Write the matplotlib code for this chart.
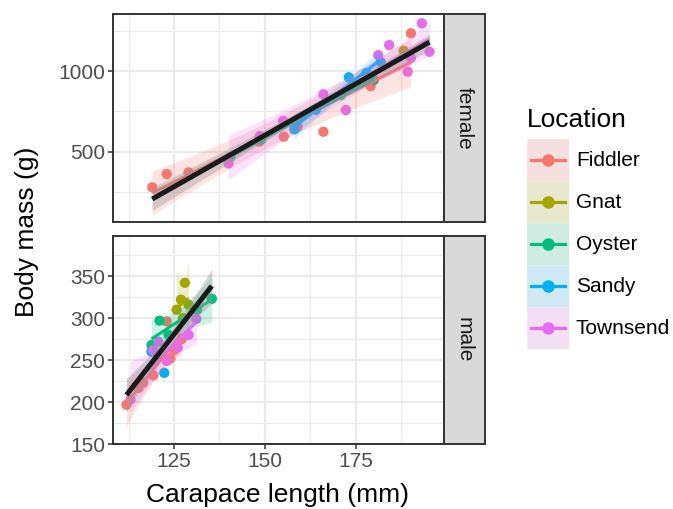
import numpy as np
import matplotlib
matplotlib.use('Agg')
import matplotlib.pyplot as plt
from matplotlib.patches import Rectangle
from matplotlib.lines import Line2D

plt.rcParams['font.family'] = ['Liberation Sans', 'DejaVu Sans']

locations = ['Fiddler', 'Gnat', 'Oyster', 'Sandy', 'Townsend']
colors = ['#F8766D', '#A3A500', '#00BF7D', '#00B0F6', '#E76BF3']

# female crabs: carapace length (mm), body mass (g)
fiddler_f_len = [119.0, 123.0, 129.0, 148.4, 155.2, 159.0, 166.1, 179.1, 190.2]
fiddler_f_mass = [278, 360, 371, 562, 593, 655, 624, 908, 1237]
gnat_f_len = [188.2]
gnat_f_mass = [1128]
oyster_f_len = [140.5, 149.0, 158.5, 170.9, 180.0]
oyster_f_mass = [466, 575, 690, 852, 946]
sandy_f_len = [158.1, 164.0, 173.1, 178.0, 181.9]
sandy_f_mass = [639, 760, 963, 990, 1058]
townsend_f_len = [140.0, 148.6, 155.0, 166.1, 172.3, 181.2, 184.2, 189.3, 190.2, 193.2, 195.3]
townsend_f_mass = [427, 597, 692, 857, 759, 1101, 1164, 998, 1083, 1299, 1122]

# male crabs
fiddler_m_len = [111.9, 115.2, 116.5, 119.3, 123.0, 124.0, 125.0, 127.1]
fiddler_m_mass = [197, 217, 223, 232, 296, 252, 262, 275]
gnat_m_len = [125.7, 126.9, 127.5, 128.0, 129.0]
gnat_m_mass = [310, 322, 300, 342, 316]
oyster_m_len = [118.8, 121.0, 123.5, 131.3, 135.4]
oyster_m_mass = [268, 297, 280, 310, 323]
sandy_m_len = [118.8, 122.3]
sandy_m_mass = [260, 235]
townsend_m_len = [113.0, 119.3, 120.7, 123.0, 126.0, 129.0, 131.1]
townsend_m_mass = [203, 262, 272, 249, 265, 280, 299]

female = [(fiddler_f_len, fiddler_f_mass), (gnat_f_len, gnat_f_mass),
          (oyster_f_len, oyster_f_mass), (sandy_f_len, sandy_f_mass),
          (townsend_f_len, townsend_f_mass)]
male = [(fiddler_m_len, fiddler_m_mass), (gnat_m_len, gnat_m_mass),
        (oyster_m_len, oyster_m_mass), (sandy_m_len, sandy_m_mass),
        (townsend_m_len, townsend_m_mass)]

W, H = 673, 509
SMALL = 15
BIG = 19


def tq(df):
    # approx. 97.5% quantile of Student t
    z = 1.959964
    return z + (z**3 + z) / (4 * df) + (5 * z**5 + 16 * z**3 + 3 * z) / (96 * df**2)


def lm_band(x, y):
    x = np.asarray(x, float)
    y = np.asarray(y, float)
    n = len(x)
    b, a = np.polyfit(x, y, 1)
    xs = np.linspace(x.min(), x.max(), 80)
    yh = a + b * xs
    res = y - (a + b * x)
    s = np.sqrt(np.sum(res**2) / (n - 2))
    sxx = np.sum((x - x.mean())**2)
    se = s * np.sqrt(1 / n + (xs - x.mean())**2 / sxx)
    h = tq(n - 2) * se
    return xs, yh, yh - h, yh + h


def fa(x0, y0, x1, y1):
    return [x0 / W, 1 - y1 / H, (x1 - x0) / W, (y1 - y0) / H]


fig = plt.figure(figsize=(W / 100, H / 100), dpi=100)
ax_f = fig.add_axes(fa(113, 14, 444, 222))
ax_m = fig.add_axes(fa(113, 236, 444, 444.3))

panels = [(ax_f, female, (62, 1357), [500, 1000], [250, 750, 1250], 'female'),
          (ax_m, male, (150, 397.6), [150, 200, 250, 300, 350], [175, 225, 275, 325, 375], 'male')]

for ax, data, ylim, yt, ymin, lab in panels:
    ax.set_xlim(108.2, 199.3)
    ax.set_ylim(*ylim)
    ax.set_xticks([125, 150, 175])
    ax.set_xticks([112.5, 137.5, 162.5, 187.5], minor=True)
    ax.set_yticks(yt)
    ax.set_yticks(ymin, minor=True)
    ax.grid(True, which='major', color='#EBEBEB', lw=1.6, zorder=0)
    ax.grid(True, which='minor', color='#EBEBEB', lw=0.9, zorder=0)
    ax.set_axisbelow(True)
    for sp in ax.spines.values():
        sp.set_color('#333333')
        sp.set_linewidth(1.4)
    ax.tick_params(which='major', length=3.3, width=1.1, color='#333333',
                   labelsize=SMALL, labelcolor='#4D4D4D', pad=2.5)
    ax.tick_params(which='minor', length=0)

    for (x, y), c in zip(data, colors):
        ax.scatter(x, y, s=55, color=c, edgecolors='none', zorder=2)
    for (x, y), c in zip(data, colors):
        if len(x) < 3:
            continue
        xs, yh, lo, hi = lm_band(x, y)
        ax.fill_between(xs, lo, hi, color=c, alpha=0.2, lw=0, zorder=3)
        ax.plot(xs, yh, color=c, lw=2.2, zorder=3, solid_capstyle='butt')
    allx = sum([list(x) for x, y in data], [])
    ally = sum([list(y) for x, y in data], [])
    xs, yh, lo, hi = lm_band(allx, ally)
    ax.fill_between(xs, lo, hi, color='#999999', alpha=0.4, lw=0, zorder=4)
    ax.plot(xs, yh, color='#1A1A1A', lw=3.6, zorder=5, solid_capstyle='butt')

    # facet strip
    pos = ax.get_position()
    fig.patches.append(Rectangle((pos.x1, pos.y0), 41 / W, pos.height,
                                 transform=fig.transFigure, facecolor='#D9D9D9',
                                 edgecolor='#333333', lw=1.4, zorder=1))
    fig.text(pos.x1 + 20.5 / W, pos.y0 + pos.height / 2, lab, rotation=-90,
             ha='center', va='center', fontsize=SMALL, color='#1A1A1A')

ax_f.tick_params(axis='x', length=0, labelbottom=False)

fig.text(278 / W, 1 - 495 / H, 'Carapace length (mm)', ha='center', va='center',
         fontsize=BIG)
fig.text(27 / W, 1 - 232 / H, 'Body mass (g)', ha='center', va='center',
         fontsize=BIG, rotation=90)

# legend
fig.text(527 / W, 1 - 120 / H, 'Location', ha='left', va='center', fontsize=BIG)
key_h = 42
for i, (loc, c) in enumerate(zip(locations, colors)):
    y0 = 139.3 + i * key_h
    fig.patches.append(Rectangle((527 / W, 1 - (y0 + key_h) / H), 42 / W, key_h / H,
                                 transform=fig.transFigure, facecolor='white',
                                 edgecolor='none'))
    yc = 1 - (y0 + key_h / 2) / H
    fig.lines.append(Line2D([548 / W], [yc], marker='o', ms=9, color=c,
                            mec='none', transform=fig.transFigure))
    fig.patches.append(Rectangle((527 / W, 1 - (y0 + key_h) / H), 42 / W, key_h / H,
                                 transform=fig.transFigure, facecolor=c, alpha=0.17,
                                 edgecolor='none'))
    fig.patches.append(Rectangle((527 / W, 1 - (y0 + key_h) / H), 42 / W, key_h / H,
                                 transform=fig.transFigure, facecolor='#999999', alpha=0.08,
                                 edgecolor='white', lw=0.8))
    fig.lines.append(Line2D([531 / W, 565 / W], [yc, yc], color=c, lw=2.3,
                            transform=fig.transFigure))
    fig.text(576 / W, yc, loc, ha='left', va='center', fontsize=SMALL)

fig.savefig('out.png', dpi=100)
